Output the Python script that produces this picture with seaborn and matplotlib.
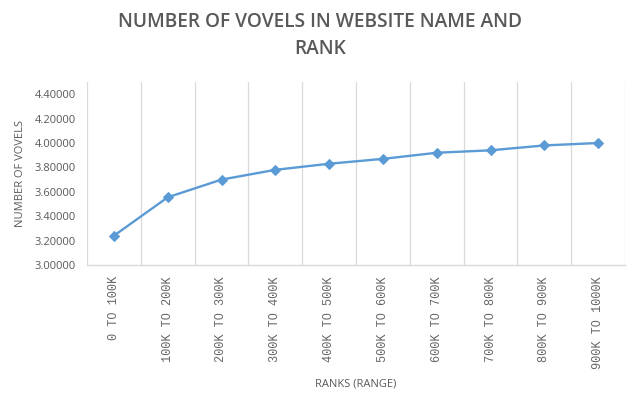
import matplotlib
matplotlib.use("Agg")
import matplotlib.pyplot as plt
import seaborn as sns
import pandas as pd
import numpy as np
from matplotlib.ticker import FixedLocator, FormatStrFormatter

categories = ["0 TO 100K", "100K TO 200K", "200K TO 300K", "300K TO 400K",
              "400K TO 500K", "500K TO 600K", "600K TO 700K", "700K TO 800K",
              "800K TO 900K", "900K TO 1000K"]
vowels = [3.24, 3.555, 3.70, 3.78, 3.83, 3.87, 3.92, 3.94, 3.98, 4.00]
y_ticks = [3.0, 3.2, 3.4, 3.6, 3.8, 4.0, 4.2, 4.4]

title = "NUMBER OF VOVELS IN WEBSITE NAME AND\nRANK"
x_label = "RANKS (RANGE)"
y_label = "NUMBER OF VOVELS"

df = pd.DataFrame({"rank": categories, "vowels": vowels})

sns.set_theme(style="white")
plt.rcParams["font.family"] = ["Open Sans", "DejaVu Sans"]

grey = "#595959"
line_grey = "#D9D9D9"
blue = "#5B9BD5"

fig = plt.figure(figsize=(6.4, 3.95), dpi=100)
ax = fig.add_axes([87/640, 1-265/395, (625-87)/640, (265-82)/395])

sns.lineplot(data=df, x="rank", y="vowels", ax=ax, sort=False, color=blue,
             linewidth=1.7, marker="D", markersize=5.5, markeredgecolor=blue,
             markerfacecolor=blue)

n = len(categories)
ax.set_xlim(-0.5, n - 0.5)
ax.set_ylim(3.0, 4.5)
ax.set_yticks(y_ticks)
ax.yaxis.set_major_formatter(FormatStrFormatter("%.5f"))
ax.set_xticks(range(n))
ax.set_xticklabels(categories, rotation=90, family="Liberation Mono",
                   fontsize=8.6, color="#666666", va="top", ha="center")
for lab in ax.get_yticklabels():
    lab.set_fontsize(8)
    lab.set_color(grey)

ax.xaxis.set_minor_locator(FixedLocator(np.arange(-0.5, n, 1.0)))
ax.grid(False)
ax.grid(True, which="minor", axis="x", color=line_grey, linewidth=0.9)
ax.tick_params(axis="both", which="both", length=0)
ax.tick_params(axis="x", pad=8)
ax.tick_params(axis="y", pad=8)

for s in ["top", "right", "left"]:
    ax.spines[s].set_visible(False)
ax.spines["bottom"].set_color(line_grey)
ax.spines["bottom"].set_linewidth(1.0)

ax.set_xlabel(x_label, fontsize=8, color=grey)
ax.set_ylabel(y_label, fontsize=8, color=grey, labelpad=6)
ax.xaxis.set_label_coords(0.5, -(378-265)/183)

fig.text(0.5, 1-12/395, title, ha="center", va="top", fontsize=13.8,
         fontweight=600, color=grey, linespacing=1.5)

fig.savefig("out.png", dpi=100)
